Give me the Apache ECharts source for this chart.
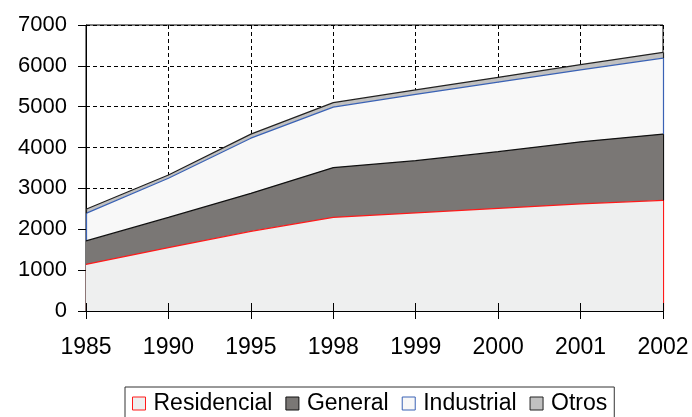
<!DOCTYPE html>
<html>
<head>
<meta charset="utf-8">
<script src="https://cdn.jsdelivr.net/npm/echarts@6/dist/echarts.min.js"></script>
<style>
  html, body { margin: 0; padding: 0; background: #fff; }
  #chart { width: 692px; height: 417px; }
</style>
</head>
<body>
<div id="chart"></div>
<script>
'use strict';

// datos
var years = ['1985', '1990', '1995', '1998', '1999', '2000', '2001', '2002'];
var residencial = [1140, 1550, 1950, 2290, 2400, 2510, 2620, 2710];
var general = [575, 740, 930, 1220, 1280, 1390, 1520, 1620];
var industrial = [675, 960, 1350, 1480, 1620, 1700, 1760, 1860];
var otros = [100, 80, 100, 110, 110, 120, 130, 140];
var yTicks = [0, 1000, 2000, 3000, 4000, 5000, 6000, 7000];

var FONT = '"Liberation Sans", Arial, sans-serif';

var chart = echarts.init(document.getElementById('chart'));

// suma acumulada para dibujar los bordes verticales de cada capa
var layers = [residencial, general, industrial, otros];
function cumul(upto) {
    return years.map(function (y, i) {
        var s = 0;
        for (var k = 0; k < upto; k++) s += layers[k][i];
        return s;
    });
}
function edges(idx) {
    var lo = cumul(idx), hi = cumul(idx + 1), n = years.length - 1;
    return [
        [{coord: [years[0], lo[0]]}, {coord: [years[0], hi[0]]}],
        [{coord: [years[n], lo[n]]}, {coord: [years[n], hi[n]]}]
    ];
}

var styles = [
    {name: 'Residencial', fill: '#eeefef', line: '#ff1a1a'},
    {name: 'General', fill: '#7a7775', line: '#111111'},
    {name: 'Industrial', fill: '#f8f8f8', line: '#3a62b5'},
    {name: 'Otros', fill: '#c0c0c0', line: '#222222'}
];

var series = styles.map(function (s, i) {
    return {
        name: s.name,
        type: 'line',
        stack: 'total',
        data: layers[i],
        symbol: 'none',
        z: 6 - i,
        lineStyle: {color: s.line, width: 1.2},
        itemStyle: {color: s.fill},
        areaStyle: {color: s.fill, opacity: 1},
        markLine: {
            silent: true,
            symbol: ['none', 'none'],
            label: {show: false},
            animation: false,
            lineStyle: {color: s.line, width: 1.2, type: 'solid'},
            data: edges(i)
        }
    };
});

var option = {
    animation: false,
    textStyle: {fontFamily: FONT},
    grid: {
        left: 86, right: 29, top: 25, bottom: 106,
        show: true, borderColor: '#000', borderWidth: 1
    },
    legend: {
        left: 125,
        top: 387,
        padding: [5, 7, 5, 7],
        borderColor: '#333',
        borderWidth: 1,
        itemGap: 13,
        itemWidth: 13,
        itemHeight: 13,
        textStyle: {fontSize: 23, color: '#000', fontFamily: FONT, padding: [0, 0, 0, 3]},
        data: styles.map(function (s) {
            return {
                name: s.name,
                icon: 'rect',
                itemStyle: {color: s.fill, borderColor: s.line, borderWidth: 1}
            };
        })
    },
    xAxis: [{
        type: 'category',
        data: years,
        boundaryGap: false,
        axisLine: {lineStyle: {color: '#000', width: 1}},
        axisTick: {length: 8, lineStyle: {color: '#000'}},
        axisLabel: {fontSize: 23, color: '#000', fontFamily: FONT, margin: 25},
        splitLine: {show: true, lineStyle: {color: '#000', type: [4, 3], width: 1}}
    }, {
        type: 'category',
        data: years,
        boundaryGap: false,
        position: 'bottom',
        z: 10,
        axisLine: {show: false},
        axisTick: {inside: true, length: 8, lineStyle: {color: '#000'}},
        axisLabel: {show: false},
        splitLine: {show: false}
    }],
    yAxis: {
        type: 'value',
        min: yTicks[0],
        max: yTicks[yTicks.length - 1],
        interval: 1000,
        axisLine: {show: true, lineStyle: {color: '#000', width: 1}},
        axisTick: {show: true, length: 8, lineStyle: {color: '#000'}},
        axisLabel: {
            fontSize: 22, color: '#000', fontFamily: FONT, margin: 19,
            formatter: function (v) { return String(v); }
        },
        splitLine: {show: true, lineStyle: {color: '#000', type: [4, 3], width: 1}}
    },
    series: series
};

chart.setOption(option);
</script>
</body>
</html>
